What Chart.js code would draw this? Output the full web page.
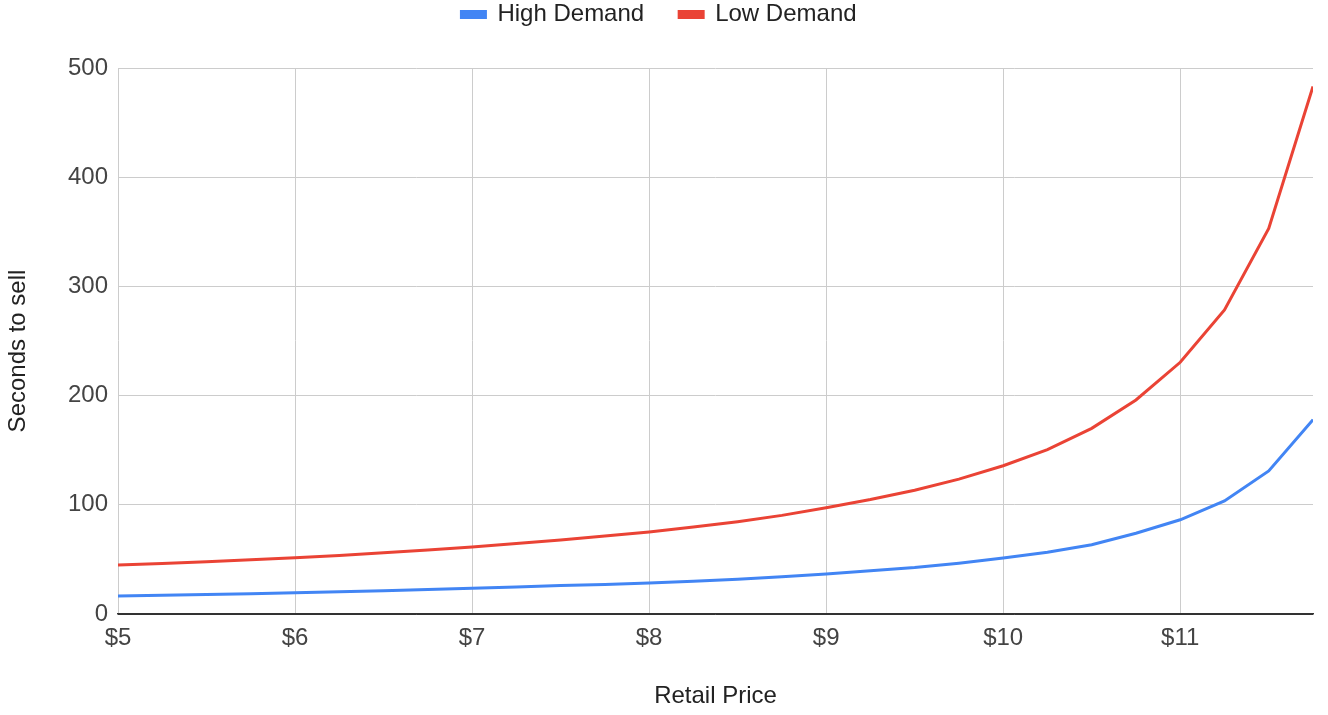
<!DOCTYPE html>
<html>
<head>
<meta charset="utf-8">
<script src="https://cdn.jsdelivr.net/npm/chart.js@4/dist/chart.umd.min.js"></script>
<style>
  html, body { margin: 0; padding: 0; background: #fff; }
  #wrap { width: 1328px; height: 715px; }
</style>
</head>
<body>
<div id="wrap"><canvas id="c" width="1328" height="715"></canvas></div>
<script>
const prices = [5, 5.25, 5.5, 5.75, 6, 6.25, 6.5, 6.75, 7, 7.25, 7.5, 7.75, 8, 8.25, 8.5, 8.75,
                9, 9.25, 9.5, 9.75, 10, 10.25, 10.5, 10.75, 11, 11.25, 11.5, 11.75];
const highDemand = [16.4, 17.1, 17.8, 18.6, 19.4, 20.3, 21.3, 22.4, 23.6, 24.8, 26.0, 27.0, 28.3, 30.0, 31.9, 34.1,
                    36.7, 39.5, 42.5, 46.5, 51.3, 56.5, 63.5, 74, 86.3, 103.6, 131, 178];
const lowDemand = [44.8, 46.3, 47.9, 49.6, 51.5, 53.6, 56.0, 58.6, 61.4, 64.5, 67.8, 71.4, 75.2, 79.6, 84.5, 90.3,
                   97.3, 104.8, 113.3, 123.5, 135.8, 150.5, 170, 196, 230.5, 278.5, 353, 483];
const seriesNames = ['High Demand', 'Low Demand'];
const yTicks = [0, 100, 200, 300, 400, 500];
const xTitle = 'Retail Price';
const yTitle = 'Seconds to sell';

const FONT = "'Liberation Sans', Arial, sans-serif";
const FS = 24;

const toPoints = vals => prices.map((p, i) => ({ x: p, y: vals[i] }));

const layoutPatch = {
  id: 'layoutPatch',
  beforeUpdate(chart) {
    const lg = chart.legend;
    if (!lg || lg._patched) return;
    lg._patched = true;
    const fit = lg.fit;
    lg.fit = function () { fit.apply(this, arguments); this.height = 68; };
    const draw = lg.draw;
    lg.draw = function () {
      const c = this.ctx;
      c.save();
      c.translate(2.5, -32.5);
      draw.apply(this, arguments);
      c.restore();
    };
  },
  afterLayout(chart) {
    const ys = chart.scales.y;
    if (!ys || ys._titlePatched) return;
    ys._titlePatched = true;
    const dt = ys.drawTitle;
    ys.drawTitle = function () {
      const c = this.ctx;
      c.save();
      c.translate(0, 10);
      dt.apply(this, arguments);
      c.restore();
    };
  }
};

new Chart(document.getElementById('c'), {
  type: 'line',
  data: {
    datasets: [
      { label: seriesNames[0], data: toPoints(highDemand), borderColor: '#4285F4', backgroundColor: '#4285F4',
        borderWidth: 3, pointRadius: 0, tension: 0, fill: false },
      { label: seriesNames[1], data: toPoints(lowDemand), borderColor: '#EA4335', backgroundColor: '#EA4335',
        borderWidth: 3, pointRadius: 0, tension: 0, fill: false }
    ]
  },
  options: {
    responsive: false,
    animation: false,
    devicePixelRatio: 1,
    layout: { padding: { left: 0, right: 15, top: 0, bottom: 0 } },
    plugins: {
      tooltip: { enabled: false },
      legend: {
        position: 'top',
        align: 'center',
        labels: {
          boxWidth: 24, boxHeight: 6, padding: 35,
          color: '#222',
          font: { family: FONT, size: FS }
        }
      }
    },
    scales: {
      x: {
        type: 'linear',
        min: prices[0],
        max: prices[prices.length - 1],
        afterFit: s => { s.height = 101; },
        ticks: {
          stepSize: 1,
          includeBounds: false,
          padding: 10,
          color: '#444',
          font: { family: FONT, size: FS },
          callback: v => '$' + v
        },
        grid: { color: '#cccccc', lineWidth: 1, drawTicks: false },
        border: { display: true, color: '#333', width: 1.5 },
        title: { display: true, text: xTitle, color: '#222', font: { family: FONT, size: FS },
                 padding: { top: 4, bottom: 4 } }
      },
      y: {
        min: yTicks[0],
        max: yTicks[yTicks.length - 1],
        afterFit: s => { s.width = 118; },
        afterBuildTicks: s => { s.ticks = yTicks.map(v => ({ value: v })); },
        ticks: {
          padding: 10,
          color: '#444',
          font: { family: FONT, size: FS }
        },
        grid: { color: ctx => (ctx.tick && ctx.tick.value === 0 ? '#333' : '#cccccc'), lineWidth: 1, drawTicks: false },
        border: { display: false },
        title: { display: true, text: yTitle, color: '#222', font: { family: FONT, size: FS },
                 padding: { top: 4, bottom: 4 } }
      }
    }
  },
  plugins: [layoutPatch]
});
</script>
</body>
</html>
